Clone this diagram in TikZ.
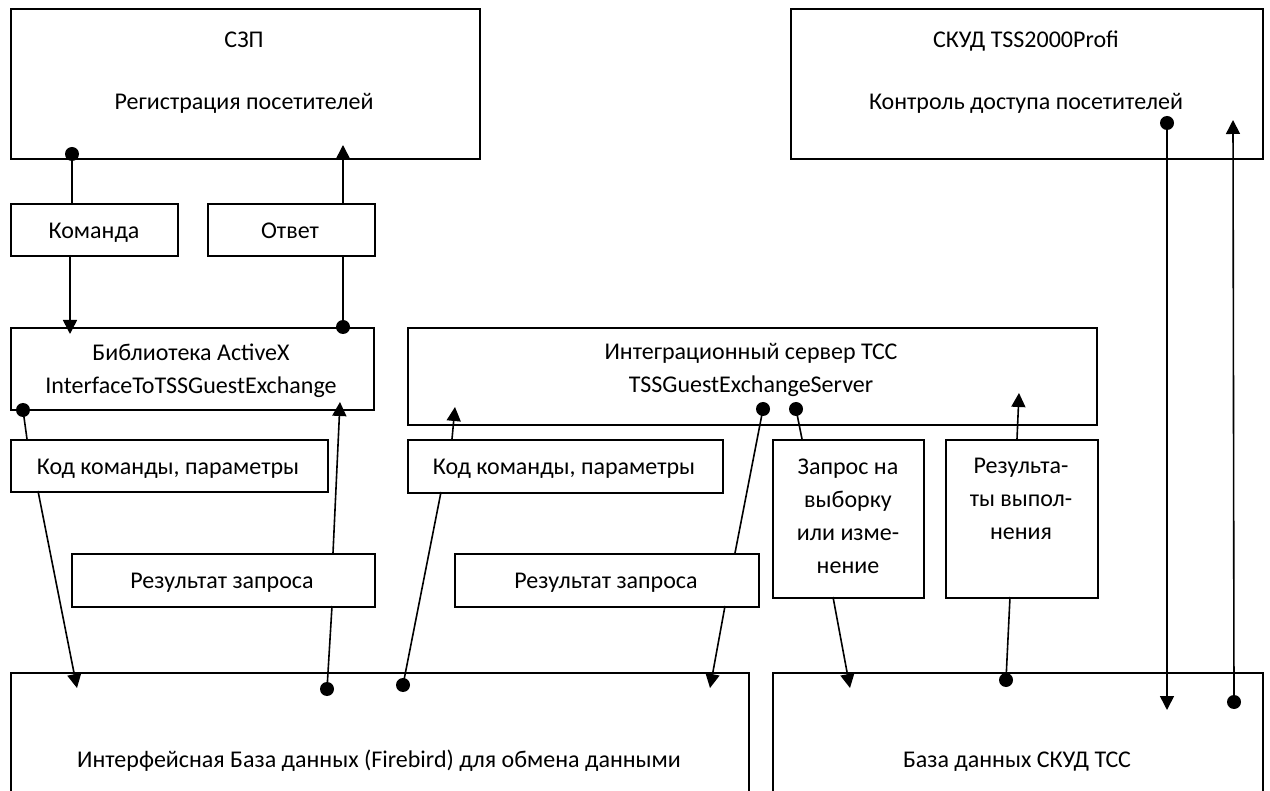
\documentclass[tikz,border=0pt]{standalone}
\usepackage{fontspec}
\setmainfont{Carlito}
\usetikzlibrary{arrows.meta}
\begin{document}
\begin{tikzpicture}[x=1pt,y=-1pt,
  box/.style={draw, line width=1.6pt, anchor=north west, inner sep=0pt},
  txt/.style={font=\fontsize{24}{33}\selectfont, align=center, inner sep=0pt},
  one/.style={txt, text height=16pt, text depth=4pt, yshift=-2.5pt},
  con/.style={line width=1.6pt},
  arr/.style={con, -{Triangle[length=14pt,width=14pt]}},
  dot/.style={circle, fill, inner sep=0pt, minimum size=14pt}
]
\clip (0,0) rectangle (1270,791);
\fill[white] (0,0) rectangle (1270,791);

% boxes
\node[box, minimum width=469pt, minimum height=150pt] (szp) at (10,8) {};
\node[box, minimum width=472pt, minimum height=150pt] (skud) at (790,8) {};
\node[box, minimum width=167pt, minimum height=52pt] (kom) at (10,203) {};
\node[box, minimum width=167pt, minimum height=52pt] (otv) at (207,203) {};
\node[box, minimum width=363pt, minimum height=82pt] (lib) at (10,327) {};
\node[box, minimum width=689pt, minimum height=97pt] (integ) at (407,327) {};
\node[box, minimum width=317pt, minimum height=52pt] (kod1) at (10,439) {};
\node[box, minimum width=315pt, minimum height=53pt] (kod2) at (407,439) {};
\node[box, minimum width=303pt, minimum height=53pt] (res1) at (71,553) {};
\node[box, minimum width=304pt, minimum height=53pt] (res2) at (454,553) {};
\node[box, minimum width=151pt, minimum height=158pt] (zap) at (772,439) {};
\node[box, minimum width=152pt, minimum height=158pt] (rez) at (945,439) {};
\node[box, minimum width=738pt, minimum height=140pt] (ifdb) at (10,672) {};
\node[box, minimum width=490pt, minimum height=140pt] (skdb) at (772,672) {};

% texts
\node[one] (tszp1) at (244,39) {СЗП};
\node[one] (tszp2) at (244,101) {Регистрация посетителей};
\node[one] (tskud1) at (1026,39) {СКУД TSS2000Profi};
\node[one] (tskud2) at (1026,101) {Контроль доступа посетителей};
\node[one] (tkom) at (94,230) {Команда};
\node[one] (totv) at (290,230) {Ответ};
\node[txt] (tlib) at (191,371) {Библиотека ActiveX\\InterfaceToTSSGuestExchange};
\node[txt] (tinteg) at (751,370) {Интеграционный сервер ТСС\\TSSGuestExchangeServer};
\node[one] (tkod1) at (168,466) {Код команды, параметры};
\node[one] (tkod2) at (564,466) {Код команды, параметры};
\node[one] (tres1) at (222,580) {Результат запроса};
\node[one] (tres2) at (606,580) {Результат запроса};
\node[txt] (tzap) at (848,516) {Запрос на\\выборку\\или изме-\\нение};
\node[txt] (trez) at (1021,499) {Результа-\\ты выпол-\\нения};
\node[one] (tifdb) at (379,759) {Интерфейсная База данных (Firebird) для обмена данными};
\node[one] (tskdb) at (1017,759) {База данных СКУД ТСС};

% dots
\node[dot] (d1) at (72,154) {};
\node[dot] (d2) at (343,327) {};
\node[dot] (d3) at (23,410) {};
\node[dot] (d4) at (327,689) {};
\node[dot] (d5) at (403,685) {};
\node[dot] (d6) at (763,409) {};
\node[dot] (d7) at (796,409) {};
\node[dot] (d8) at (1006,680) {};
\node[dot] (d9) at (1167,123) {};
\node[dot] (d10) at (1234,702) {};

% connection points
\coordinate (kom-n) at (72,203);
\coordinate (kom-s) at (70,255);
\coordinate (t1) at (70,334);
\coordinate (otv-n) at (343,203);
\coordinate (otv-s) at (343,255);
\coordinate (t2) at (343,145);
\coordinate (kod1-n) at (27,439);
\coordinate (kod1-s) at (38,491);
\coordinate (t3) at (77,688);
\coordinate (res1-n) at (333,553);
\coordinate (res1-s) at (332,606);
\coordinate (t4) at (340,402);
\coordinate (kod2-s) at (441,492);
\coordinate (kod2-n) at (452,439);
\coordinate (t5) at (455,407);
\coordinate (res2-n) at (735,553);
\coordinate (res2-s) at (725,606);
\coordinate (t6) at (710,688);
\coordinate (zap-n) at (802,439);
\coordinate (zap-s) at (833,597);
\coordinate (t7) at (850,688);
\coordinate (rez-s) at (1010,597);
\coordinate (rez-n) at (1017,439);
\coordinate (t8) at (1019,393);
\coordinate (t9) at (1167,710);
\coordinate (t10) at (1233,120);

% connectors
\draw[con] (d1.center) -- (kom-n);
\draw[arr] (kom-s) -- (t1);
\draw[arr] (otv-n) -- (t2);
\draw[con] (d2.center) -- (otv-s);
\draw[con] (d3.center) -- (kod1-n);
\draw[arr] (kod1-s) -- (t3);
\draw[arr] (res1-n) -- (t4);
\draw[con] (d4.center) -- (res1-s);
\draw[con] (d5.center) -- (kod2-s);
\draw[arr] (kod2-n) -- (t5);
\draw[con] (d6.center) -- (res2-n);
\draw[arr] (res2-s) -- (t6);
\draw[con] (d7.center) -- (zap-n);
\draw[arr] (zap-s) -- (t7);
\draw[con] (d8.center) -- (rez-s);
\draw[arr] (rez-n) -- (t8);
\draw[arr] (d9.center) -- (t9);
\draw[arr] (d10.center) -- (t10);
\end{tikzpicture}
\end{document}
